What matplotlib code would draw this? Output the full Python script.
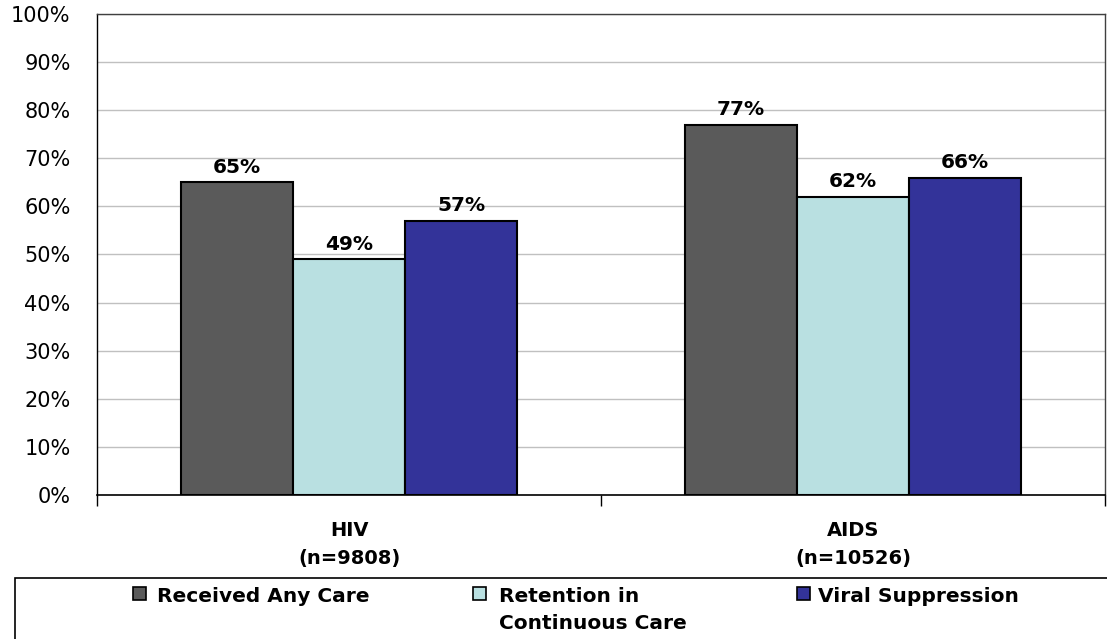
import matplotlib
matplotlib.use("Agg")
import matplotlib.pyplot as plt
from matplotlib.patches import Rectangle
import numpy as np

# Care outcomes by stage at diagnosis
categories = ["HIV\n(n=9808)", "AIDS\n(n=10526)"]
series_names = ["Received Any Care", "Retention in\nContinuous Care", "Viral Suppression"]
received_any_care = [65, 77]
retention_in_care = [49, 62]
viral_suppression = [57, 66]
yticks = [0, 10, 20, 30, 40, 50, 60, 70, 80, 90, 100]

colors = ["#5a5a5a", "#b9e0e1", "#333399"]

plt.rcParams['font.family'] = ['DejaVu Sans']

W, H = 1107, 639
fig = plt.figure(figsize=(W / 100, H / 100), dpi=100)
ax = fig.add_axes([97 / W, 1 - 495 / H, 1008 / W, 481 / H])

def fx(px):
    return px / W

def fy(py):
    return 1 - py / H

values = [received_any_care, retention_in_care, viral_suppression]
x = np.arange(len(categories)) + 0.5
width = 1.0 / 4.5

for i, (name, vals) in enumerate(zip(series_names, values)):
    offset = (i - 1) * width
    bars = ax.bar(x + offset, vals, width, color=colors[i], edgecolor="black",
                  linewidth=1.5, label=name, zorder=3)
    for b, v in zip(bars, vals):
        ax.annotate("%d%%" % v, (b.get_x() + b.get_width() / 2, v),
                    xytext=(0, 4), textcoords="offset points",
                    ha="center", va="bottom", fontsize=14.5, fontweight="bold")

ax.set_ylim(0, 100)
ax.set_xlim(0, len(categories))
ax.set_yticks(yticks)
ax.set_yticklabels(["%d%%" % t for t in yticks], fontsize=15)
ax.tick_params(axis="y", length=0, pad=19)
ax.yaxis.grid(True, color="#c0c0c0", linewidth=1, zorder=0)

# separators between categories as major ticks, names on minor ticks
ax.set_xticks(np.arange(len(categories) + 1))
ax.set_xticklabels([])
ax.tick_params(axis="x", which="major", direction="out", length=8, width=1, color="black")
ax.set_xticks(x, minor=True)
ax.set_xticklabels(categories, minor=True, fontsize=14, fontweight="bold", linespacing=1.6)
ax.tick_params(axis="x", which="minor", length=0, pad=19)

for side in ["top", "right"]:
    ax.spines[side].set_color("#404040")
    ax.spines[side].set_linewidth(1)
ax.spines["left"].set_linewidth(1)
ax.spines["bottom"].set_linewidth(1.2)

# legend box running off the lower right edge
fig.patches.append(Rectangle((fx(15), fy(H + 20)), fx(W + 20) - fx(15), fy(578) - fy(H + 20),
                             transform=fig.transFigure, facecolor="white",
                             edgecolor="black", linewidth=1.2))
marker_x = [133, 473, 797]
text_x = [157, 499, 818]
for i, name in enumerate(series_names):
    fig.patches.append(Rectangle((fx(marker_x[i]), fy(600)), fx(13), 13 / H,
                                 transform=fig.transFigure, facecolor=colors[i],
                                 edgecolor="black", linewidth=1.2))
    fig.text(fx(text_x[i]), fy(587), name, ha="left", va="top", fontsize=14.5,
             fontweight="bold", linespacing=1.55)

fig.savefig("out.png", dpi=100)
